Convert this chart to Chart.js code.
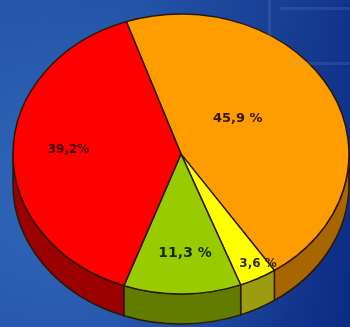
<!DOCTYPE html>
<html>
<head>
<meta charset="utf-8">
<script src="https://cdn.jsdelivr.net/npm/chart.js@4"></script>
<style>
    html, body { margin: 0; padding: 0; }
    body {
        width: 350px; height: 327px; overflow: hidden;
        background:
            radial-gradient(ellipse 70% 65% at 25% 60%, rgba(60, 120, 200, 0.55) 0%, rgba(60, 120, 200, 0) 100%),
            linear-gradient(100deg, #2355a8 0%, #2252a6 35%, #173f94 70%, #0d2b84 100%);
    }
    #wrap { position: relative; width: 350px; height: 327px; }
    .friso { position: absolute; background: rgba(130, 160, 230, 0.16); }
</style>
</head>
<body>
<div id="wrap">
    <div class="friso" style="left:268px; top:0; width:3px; height:40px;"></div>
    <div class="friso" style="left:280px; top:7px; width:70px; height:3px;"></div>
    <div class="friso" style="left:290px; top:62px; width:60px; height:3px;"></div>
    <canvas id="grafico" width="350" height="327"></canvas>
</div>
<script>
const categorias = ['Laranja', 'Amarelo', 'Verde', 'Vermelho'];
const valores = [45.9, 3.6, 11.3, 39.2];
const comEspaco = [true, true, true, false];

const coresTopo = ['#ff9c00', '#ffff00', '#99cc00', '#ff0000'];
const coresLado = ['#a86600', '#9c9c10', '#627c00', '#9a0000'];
const coresTexto = ['#301600', '#302a00', '#182a00', '#3c0000'];
const tamFonte = [13, 12, 14, 12];
const raioRotulo = [0.42, 0.91, 0.71, 0.67];
const desvioAngulo = [-10, -3, -1.5, 2];

// elipse da face de cima e altura da lateral
const CX = 181, CY = 154, RX = 168, RY = 140, ALTURA = 30;
const CONTORNO = '#2a1800';

const rotulo = (v, i) => v.toFixed(1).replace('.', ',') + (comEspaco[i] ? ' %' : '%');

const pizza3d = {
    id: 'pizza3d',
    beforeDatasetsDraw(chart) {
        const ctx = chart.ctx;
        const arcos = chart.getDatasetMeta(0).data;

        // lateral: só a metade da frente aparece
        ctx.save();
        ctx.lineWidth = 1.5;
        ctx.strokeStyle = CONTORNO;
        ctx.lineJoin = 'round';
        arcos.forEach((arco, i) => {
            const { startAngle, endAngle } = arco.getProps(['startAngle', 'endAngle'], true);
            for (let k = -1; k <= 2; k++) {
                const a = Math.max(startAngle, 2 * Math.PI * k);
                const b = Math.min(endAngle, 2 * Math.PI * k + Math.PI);
                if (b <= a) continue;
                ctx.beginPath();
                ctx.ellipse(CX, CY, RX, RY, 0, a, b);
                ctx.ellipse(CX, CY + ALTURA, RX, RY, 0, b, a, true);
                ctx.closePath();
                ctx.fillStyle = coresLado[i];
                ctx.fill();
                ctx.stroke();
            }
        });
        ctx.restore();

        // o Chart.js desenha um círculo: achata em elipse
        const c = arcos[0];
        ctx.save();
        ctx.translate(CX, CY);
        ctx.scale(RX / c.outerRadius, RY / c.outerRadius);
        ctx.translate(-c.x, -c.y);
    },
    afterDatasetsDraw(chart) {
        const ctx = chart.ctx;
        ctx.restore();

        const arcos = chart.getDatasetMeta(0).data;
        ctx.save();
        ctx.textAlign = 'center';
        ctx.textBaseline = 'middle';
        arcos.forEach((arco, i) => {
            const { startAngle, endAngle } = arco.getProps(['startAngle', 'endAngle'], true);
            const meio = (startAngle + endAngle) / 2 + desvioAngulo[i] * Math.PI / 180;
            const x = CX + RX * raioRotulo[i] * Math.cos(meio);
            const y = CY + RY * raioRotulo[i] * Math.sin(meio);
            ctx.font = 'bold ' + tamFonte[i] + 'px "DejaVu Sans"';
            ctx.fillStyle = coresTexto[i];
            ctx.fillText(rotulo(valores[i], i), x, y);
        });
        ctx.restore();
    }
};

new Chart(document.getElementById('grafico'), {
    type: 'pie',
    data: {
        labels: categorias,
        datasets: [{
            data: valores,
            backgroundColor: coresTopo,
            borderColor: CONTORNO,
            borderWidth: 1.5,
            clip: false
        }]
    },
    options: {
        responsive: false,
        animation: false,
        events: [],
        rotation: -19,
        layout: { padding: 0 },
        plugins: { legend: { display: false }, tooltip: { enabled: false } }
    },
    plugins: [pizza3d]
});
</script>
</body>
</html>
